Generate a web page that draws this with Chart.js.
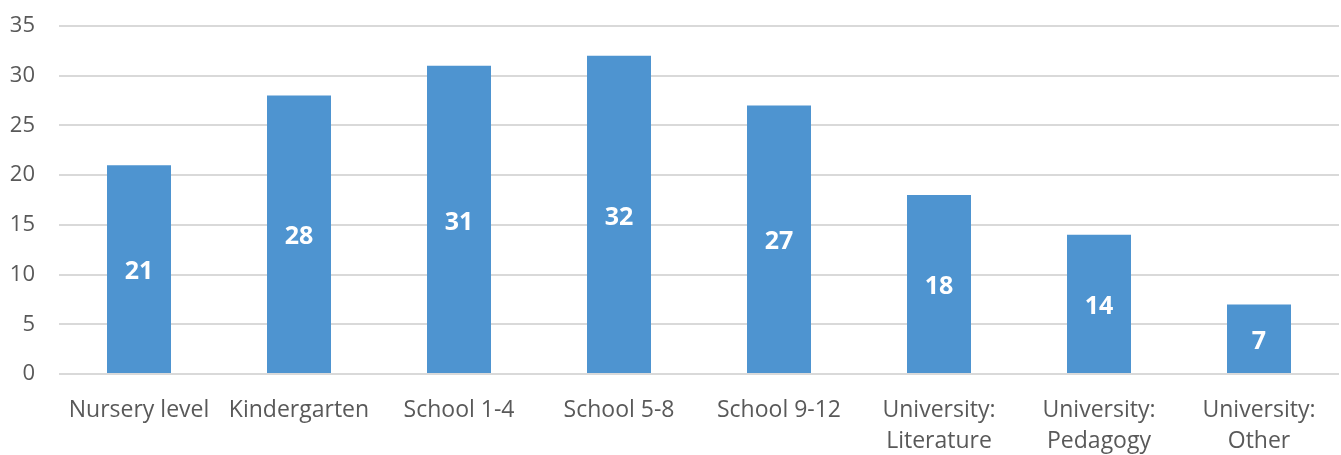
<!DOCTYPE html>
<html>
<head>
<meta charset="utf-8">
<script src="https://cdn.jsdelivr.net/npm/chart.js@4"></script>
<style>
    html, body { margin: 0; padding: 0; background: #fff; }
    #wrap { width: 1341px; height: 455px; }
</style>
</head>
<body>
<div id="wrap"><canvas id="chart-bar"></canvas></div>
<script>
var categories = [
    "Nursery level", "Kindergarten", "School 1-4", "School 5-8", "School 9-12",
    ["University:", "Literature"], ["University:", "Pedagogy"], ["University:", "Other"]
];
var counts = [21, 28, 31, 32, 27, 18, 14, 7];
var yTicks = [0, 5, 10, 15, 20, 25, 30, 35];

// white numbers centred in each bar
var barLabels = {
    id: "barLabels",
    afterDatasetsDraw: function(chart) {
        var ctx = chart.ctx;
        var meta = chart.getDatasetMeta(0);
        ctx.save();
        ctx.fillStyle = "#ffffff";
        ctx.font = "bold 25px 'Open Sans'";
        ctx.textAlign = "center";
        ctx.textBaseline = "middle";
        meta.data.forEach(function(bar, i) {
            var mid = (bar.y + bar.base) / 2 + 3;
            ctx.fillText(String(counts[i]), bar.x, mid);
        });
        ctx.restore();
    }
};

var ctx = document.getElementById("chart-bar").getContext("2d");

new Chart(ctx, {
    type: "bar",
    data: {
        labels: categories,
        datasets: [{
            data: counts,
            backgroundColor: "#4e94d0",
            borderWidth: 0,
            categoryPercentage: 1,
            barPercentage: 0.4
        }]
    },
    options: {
        responsive: true,
        maintainAspectRatio: false,
        animation: false,
        layout: {
            padding: { top: 26, right: 2, bottom: 0, left: 0 }
        },
        plugins: {
            legend: { display: false },
            tooltip: { enabled: false }
        },
        scales: {
            y: {
                min: 0,
                max: 35,
                afterBuildTicks: function(axis) {
                    axis.ticks = yTicks.map(function(v) { return { value: v }; });
                },
                afterFit: function(axis) {
                    axis.width = 59;
                    axis.paddingTop = 0;
                },
                border: { display: false },
                grid: {
                    color: "#d9d9d9",
                    lineWidth: 2,
                    drawTicks: false
                },
                ticks: {
                    color: "#595959",
                    padding: 24,
                    font: { size: 22, family: "Open Sans" }
                }
            },
            x: {
                afterFit: function(axis) { axis.height = 81; },
                border: { display: false },
                grid: { display: false, drawTicks: false },
                ticks: {
                    color: "#595959",
                    padding: 21,
                    maxRotation: 0,
                    autoSkip: false,
                    font: { size: 23, family: "Open Sans", lineHeight: 1.35 }
                }
            }
        }
    },
    plugins: [barLabels]
});
</script>
</body>
</html>
